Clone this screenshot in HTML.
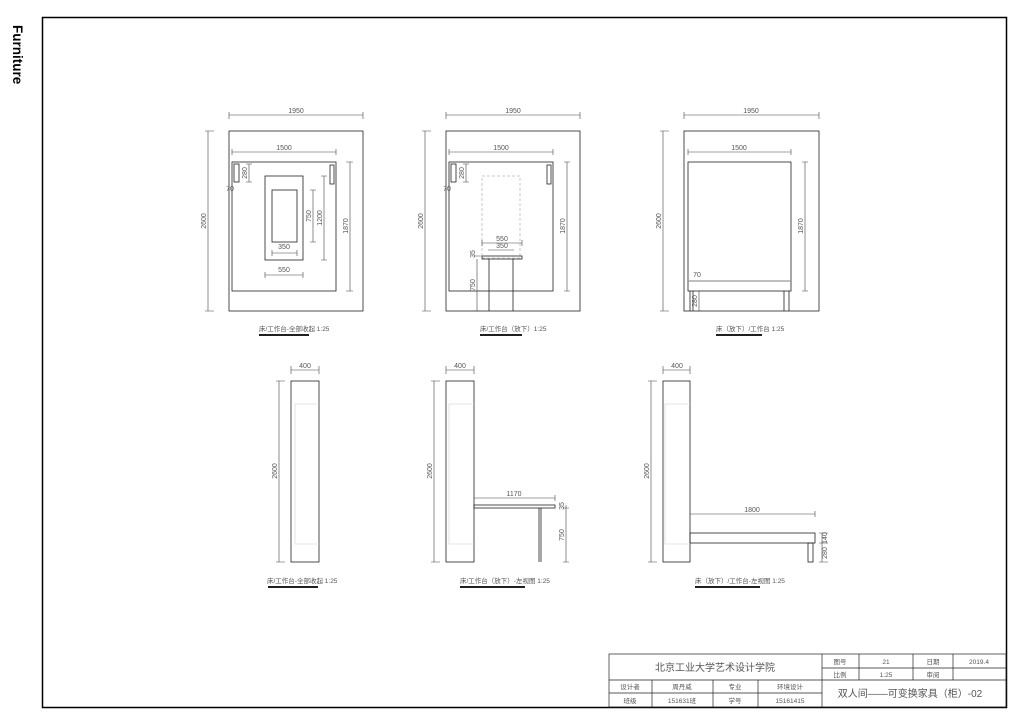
<!DOCTYPE html>
<html><head><meta charset="utf-8"><style>
html,body{margin:0;padding:0;background:#fff;}
svg{display:block}
text{font-family:"Liberation Sans","Noto Sans CJK SC",sans-serif;fill:#555}
.d{font-size:7px}
.c{font-size:6.5px}
</style></head><body>
<svg width="1024" height="724" viewBox="0 0 1024 724" xmlns="http://www.w3.org/2000/svg">
<text x="13" y="25" transform="rotate(90 13 25)" style="font-size:13.5px;font-weight:bold;fill:#000">Furniture</text>
<rect x="42.5" y="17.5" width="964" height="690" fill="none" stroke="#000" stroke-width="1.5"/>
<g fill="none" stroke="#222" stroke-width="0.8">
<rect x="229" y="131" width="134" height="180"/>
<rect x="232" y="162" width="104" height="129"/>
<rect x="234" y="164" width="5" height="18"/>
<rect x="330" y="165" width="4" height="19"/>
<rect x="265" y="176" width="38" height="84"/>
<rect x="272" y="190" width="25" height="52"/>
<rect x="446" y="131" width="134" height="180"/>
<rect x="449" y="162" width="104" height="129"/>
<rect x="451" y="164" width="5" height="18"/>
<rect x="547" y="165" width="4" height="19"/>
<rect x="482" y="176" width="38" height="82" stroke="#bbb" stroke-dasharray="3,2"/>
<rect x="482" y="256" width="40" height="3"/>
<line x1="489" y1="259" x2="489" y2="311"/><line x1="513" y1="259" x2="513" y2="311"/>
<rect x="684" y="131" width="135" height="180"/>
<rect x="688" y="162" width="103" height="129"/>
<line x1="688" y1="281" x2="791" y2="281" stroke="#999" stroke-width="1.2"/>
<line x1="690" y1="291" x2="690" y2="311"/><line x1="693" y1="291" x2="693" y2="311"/>
<line x1="784" y1="291" x2="784" y2="311"/><line x1="789" y1="291" x2="789" y2="311"/>
<rect x="291" y="381" width="28" height="181"/>
<path d="M319 404 H295 V544 H319" stroke="#ddd"/>
<rect x="446" y="381" width="28" height="181"/>
<path d="M474 404 H449 V544 H474" stroke="#ddd"/>
<rect x="474" y="505" width="81" height="3"/>
<line x1="539" y1="508" x2="539" y2="562"/><line x1="541" y1="508" x2="541" y2="562"/>
<rect x="663" y="381" width="27" height="181"/>
<path d="M690 404 H665 V544 H690" stroke="#ddd"/>
<rect x="690" y="533" width="125" height="10"/>
<rect x="808" y="543" width="5" height="19"/>
</g>
<g stroke="#444" stroke-width="0.6" fill="none">
<path d="M229 115H363M229 112V119M363 112V119"/>
<path d="M208 131V311M205 131H214M205 311H214"/>
<path d="M232 152H336M232 149V155M336 149V155"/>
<path d="M350 162V291M346 162H353M346 291H353"/>
<path d="M249 164V182M246 164H252M246 182H252"/>
<path d="M313 190V242M324 176V260M310 190H316M310 242H316M321 176H327M321 260H327"/>
<path d="M272 253H297M265 275H303M272 250V256M297 250V256M265 272V278M303 272V278"/>
<path d="M446 115H580M446 112V119M580 112V119"/>
<path d="M425 131V311M422 131H431M422 311H431"/>
<path d="M449 152H553M449 149V155M553 149V155"/>
<path d="M567 162V291M564 162H570M564 291H570"/>
<path d="M466 164V182M463 164H469M463 182H469"/>
<path d="M482 243H522M488 250H514M482 240V246M522 240V246"/>
<path d="M477 259V311M474 256H481M474 311H481"/>
<path d="M684 115H819M684 112V119M819 112V119"/>
<path d="M663 131V311M660 131H669M660 311H669"/>
<path d="M688 152H791M688 149V155M791 149V155"/>
<path d="M805 162V291M802 162H808M802 291H808"/>
<path d="M699 291V311M696 311H702"/>
<path d="M291 370H319M291 366V374M319 366V374"/>
<path d="M279 381V562M276 381H285M276 562H285"/>
<path d="M446 370H474M446 366V374M474 366V374"/>
<path d="M434 381V562M431 381H440M431 562H440"/>
<path d="M474 498H555M555 495V501"/>
<path d="M566 505V562M563 508H569M563 562H569"/>
<path d="M663 370H690M663 366V374M690 366V374"/>
<path d="M651 381V562M648 381H657M648 562H657"/>
<path d="M690 514H815M815 511V517"/>
<path d="M822 533V562M819 533H828M819 543H828M819 562H828"/>
</g>
<g class="d" text-anchor="middle">
<text x="296" y="113">1950</text><text x="513" y="113">1950</text><text x="751" y="113">1950</text>
<text x="284" y="150">1500</text><text x="501" y="150">1500</text><text x="739" y="150">1500</text>
<text x="284" y="249">350</text><text x="284" y="272">550</text>
<text x="502" y="241">550</text><text x="502" y="248">350</text>
<text x="305" y="368">400</text><text x="460" y="368">400</text><text x="677" y="368">400</text>
<text x="514" y="496">1170</text><text x="752" y="512">1800</text>
<text x="230" y="191">70</text><text x="447" y="191">70</text><text x="697" y="277">70</text>
<g transform="rotate(-90)">
<text x="-221" y="206">2600</text><text x="-221" y="423">2600</text><text x="-221" y="661">2600</text>
<text x="-226" y="348">1870</text><text x="-226" y="565">1870</text><text x="-226" y="803">1870</text>
<text x="-173" y="247">280</text><text x="-173" y="464">280</text><text x="-301" y="697">280</text>
<text x="-216" y="311">750</text><text x="-218" y="322">1200</text>
<text x="-285" y="475">750</text><text x="-254" y="475">35</text>
<text x="-471" y="277">2600</text><text x="-471" y="432">2600</text><text x="-471" y="649">2600</text>
<text x="-535" y="564">750</text><text x="-506" y="564">35</text>
<text x="-538" y="827">140</text><text x="-553" y="827">280</text>
</g>
</g>
<g class="c">
<text x="259" y="331">床/工作台-全部收起 1:25</text>
<text x="480" y="331">床/工作台（放下）1:25</text>
<text x="716" y="331">床（放下）/工作台 1:25</text>
<text x="267" y="583">床/工作台-全部收起 1:25</text>
<text x="460" y="583">床/工作台（放下）-左视图 1:25</text>
<text x="695" y="583">床（放下）/工作台-左视图 1:25</text>
</g>
<g stroke="#000" stroke-width="1.8">
<line x1="259" y1="335" x2="309" y2="335"/><line x1="480" y1="335" x2="522" y2="335"/><line x1="716" y1="335" x2="762" y2="335"/>
<line x1="268" y1="587" x2="318" y2="587"/><line x1="460" y1="587" x2="525" y2="587"/><line x1="695" y1="587" x2="760" y2="587"/>
</g>
<g stroke="#222" stroke-width="0.7" fill="none">
<rect x="609" y="654" width="397" height="53"/>
<path d="M822 654V707M822 668H1006M859 654V680M913 654V680M953 654V680M822 680H1006"/>
<path d="M609 680H822M609 693H822M652 680V707M713 680V707M758 680V707"/>
</g>
<g class="c" text-anchor="middle">
<text x="715" y="671" style="font-size:10px">北京工业大学艺术设计学院</text>
<text x="840" y="664">图号</text><text x="886" y="664">21</text><text x="933" y="664">日期</text><text x="979" y="664">2019.4</text>
<text x="840" y="677">比例</text><text x="886" y="677">1:25</text><text x="933" y="677">审阅</text>
<text x="630" y="689">设计者</text><text x="682" y="689">周丹威</text><text x="735" y="689">专业</text><text x="790" y="689">环境设计</text>
<text x="630" y="703">班级</text><text x="682" y="703">151631班</text><text x="735" y="703">学号</text><text x="790" y="703">15161415</text>
<text x="910" y="697" style="font-size:10px">双人间——可变换家具（柜）-02</text>
</g>
</svg>
</body></html>
